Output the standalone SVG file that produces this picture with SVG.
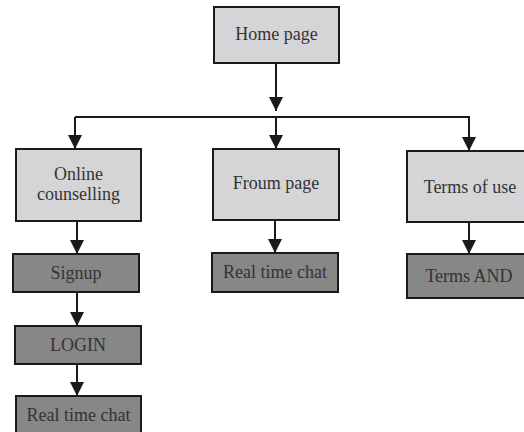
<svg xmlns="http://www.w3.org/2000/svg" width="524" height="432" viewBox="0 0 524 432">
<style>
.light{fill:#d5d5d7;stroke:#1a1a1a;stroke-width:2}
.dark{fill:#878787;stroke:#1a1a1a;stroke-width:2}
text{font-family:'Liberation Serif','Times New Roman',Tinos,'DejaVu Serif',serif;font-size:18px;fill:#333;text-anchor:middle}
.conn line{stroke:#1a1a1a;stroke-width:2}
.arr line{marker-end:url(#ah)}
</style>
<defs>
<marker id="ah" markerUnits="userSpaceOnUse" markerWidth="16" markerHeight="16" refX="14" refY="7" orient="auto" overflow="visible">
<path d="M0,0 L14,7 L0,14 z" fill="#1a1a1a"/>
</marker>
</defs>
<rect width="524" height="432" fill="#fff"/>
<g id="connectors" class="conn">
<line x1="75" y1="117" x2="470" y2="117"/>
<g class="arr">
<line x1="276" y1="63" x2="276" y2="111"/>
<line x1="75" y1="117" x2="75" y2="149"/>
<line x1="276" y1="117" x2="276" y2="149"/>
<line x1="469" y1="117" x2="469" y2="151"/>
<line x1="77" y1="221" x2="77" y2="254"/>
<line x1="77" y1="292" x2="77" y2="326"/>
<line x1="77" y1="364" x2="77" y2="396"/>
<line x1="275" y1="220" x2="275" y2="253"/>
<line x1="469" y1="222" x2="469" y2="254"/>
</g>
</g>
<g id="home"><rect class="light" x="214" y="7" width="125" height="56"/><text x="276.5" y="40" font-family="Liberation Serif, serif">Home page</text></g>
<g id="online"><rect class="light" x="16" y="149" width="125" height="72"/><text x="78.5" y="180">Online</text><text x="78.5" y="200">counselling</text></g>
<g id="forum"><rect class="light" x="213" y="149" width="126" height="71"/><text x="276" y="189">Froum page</text></g>
<g id="terms"><rect class="light" x="407" y="151" width="125" height="71"/><text x="470" y="193">Terms of use</text></g>
<g id="signup"><rect class="dark" x="13" y="254" width="126" height="38"/><text x="76" y="279">Signup</text></g>
<g id="login"><rect class="dark" x="15" y="326" width="126" height="38"/><text x="78" y="351">LOGIN</text></g>
<g id="chat1"><rect class="dark" x="16" y="396" width="125" height="42"/><text x="78.5" y="421">Real time chat</text></g>
<g id="chat2"><rect class="dark" x="212" y="253" width="126" height="39"/><text x="275" y="278">Real time chat</text></g>
<g id="termsand"><rect class="dark" x="407" y="254" width="125" height="44"/><text x="469" y="282">Terms AND</text></g>
</svg>
